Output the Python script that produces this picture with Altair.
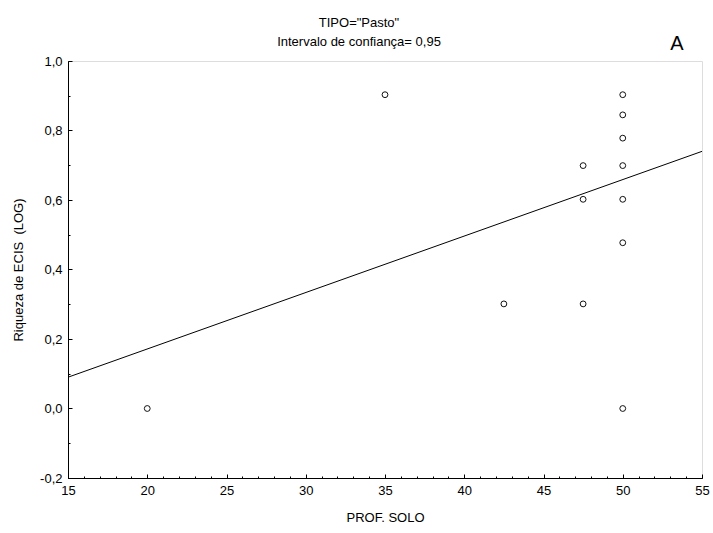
import altair as alt
import pandas as pd

# Soil depth (PROF. SOLO) and log10 of ECIS richness, pasture sites
prof_solo = [20, 35, 42.5, 47.5, 47.5, 47.5, 50, 50, 50, 50, 50, 50, 50]
riqueza_log = [0.0, 0.903, 0.301, 0.699, 0.602, 0.301,
               0.903, 0.845, 0.778, 0.699, 0.602, 0.477, 0.0]

# Fitted line, evaluated at the ends of the x range
fit_x = [15, 55]
fit_y = [0.09, 0.74]

x_ticks = [15, 20, 25, 30, 35, 40, 45, 50, 55]
y_ticks = [-0.2, 0.0, 0.2, 0.4, 0.6, 0.8, 1.0]
x_minor = list(range(15, 56))
y_minor = [round(-0.2 + 0.1 * i, 1) for i in range(13)]

pts = pd.DataFrame({"prof": prof_solo, "riq": riqueza_log})
fit = pd.DataFrame({"fx": fit_x, "fy": fit_y})

FONT = "Liberation Sans"
x_scale = alt.Scale(domain=[15, 55], nice=False, zero=False)
y_scale = alt.Scale(domain=[-0.2, 1.0], nice=False, zero=False)

y_label = "replace(replace(format(datum.value, '.1f'), '.', ','), '\u2212', '-')"

# main axes: domain lines, labels and titles
points = alt.Chart(pts).mark_point(
    shape="circle", size=34, filled=False, color="#111", strokeWidth=1, opacity=1
).encode(
    x=alt.X("prof:Q", scale=x_scale, axis=alt.Axis(
        orient="bottom", title="PROF. SOLO", values=x_ticks, format="d",
        ticks=False, grid=False, domainColor="black", domainWidth=1,
        labelFlush=False, labelOverlap=False,
        labelFont=FONT, labelFontSize=13, labelColor="black", labelPadding=6,
        titleFont=FONT, titleFontSize=13, titleFontWeight="normal",
        titleColor="black", titlePadding=14)),
    y=alt.Y("riq:Q", scale=y_scale, axis=alt.Axis(
        orient="left", title="Riqueza de ECIS\u00a0 (LOG)", values=y_ticks,
        labelExpr=y_label, ticks=False, grid=False, domainColor="black",
        labelFlush=False, labelOverlap=False,
        domainWidth=1, labelFont=FONT, labelFontSize=13, labelColor="black",
        labelPadding=6, titleFont=FONT, titleFontSize=13,
        titleFontWeight="normal", titleColor="black", titlePadding=14)),
)

# regression line, carrying the major inward ticks
line = alt.Chart(fit).mark_line(color="black", strokeWidth=1).encode(
    x=alt.X("fx:Q", scale=x_scale, axis=alt.Axis(
        orient="bottom", title=None, labels=False, domain=False, grid=False,
        values=x_ticks, tickSize=4, offset=-4, tickColor="black")),
    y=alt.Y("fy:Q", scale=y_scale, axis=alt.Axis(
        orient="left", title=None, labels=False, domain=False, grid=False,
        values=y_ticks, tickSize=4, offset=-4, tickColor="black")),
)

# invisible layer carrying the minor inward ticks
minor = alt.Chart(fit).mark_line(opacity=0).encode(
    x=alt.X("fx:Q", scale=x_scale, axis=alt.Axis(
        orient="bottom", title=None, labels=False, domain=False, grid=False,
        values=x_minor, tickSize=2, offset=-2, tickColor="black")),
    y=alt.Y("fy:Q", scale=y_scale, axis=alt.Axis(
        orient="left", title=None, labels=False, domain=False, grid=False,
        values=y_minor, tickSize=2, offset=-2, tickColor="black")),
)

panel_tag = alt.Chart(pd.DataFrame({"t": ["A"]})).mark_text(
    font=FONT, fontSize=20, color="black", align="center", baseline="middle"
).encode(text="t:N", x=alt.value(609), y=alt.value(-17))

chart = alt.layer(points, line, minor, panel_tag).resolve_axis(
    x="independent", y="independent"
).properties(
    width=634,
    height=417,
    autosize=alt.AutoSizeParams(type="none"),
    padding={"left": 68, "top": 61, "right": 11, "bottom": 55},
    title=alt.TitleParams(
        text=['TIPO="Pasto"', "Intervalo de confiança= 0,95"],
        font=FONT, fontSize=13, fontWeight="normal", color="black",
        lineHeight=19, anchor="middle", dx=-26, dy=27, offset=12),
).configure_view(stroke=None).configure(background="white")

chart.save("out.html", embed_options={"renderer": "svg", "actions": False})
